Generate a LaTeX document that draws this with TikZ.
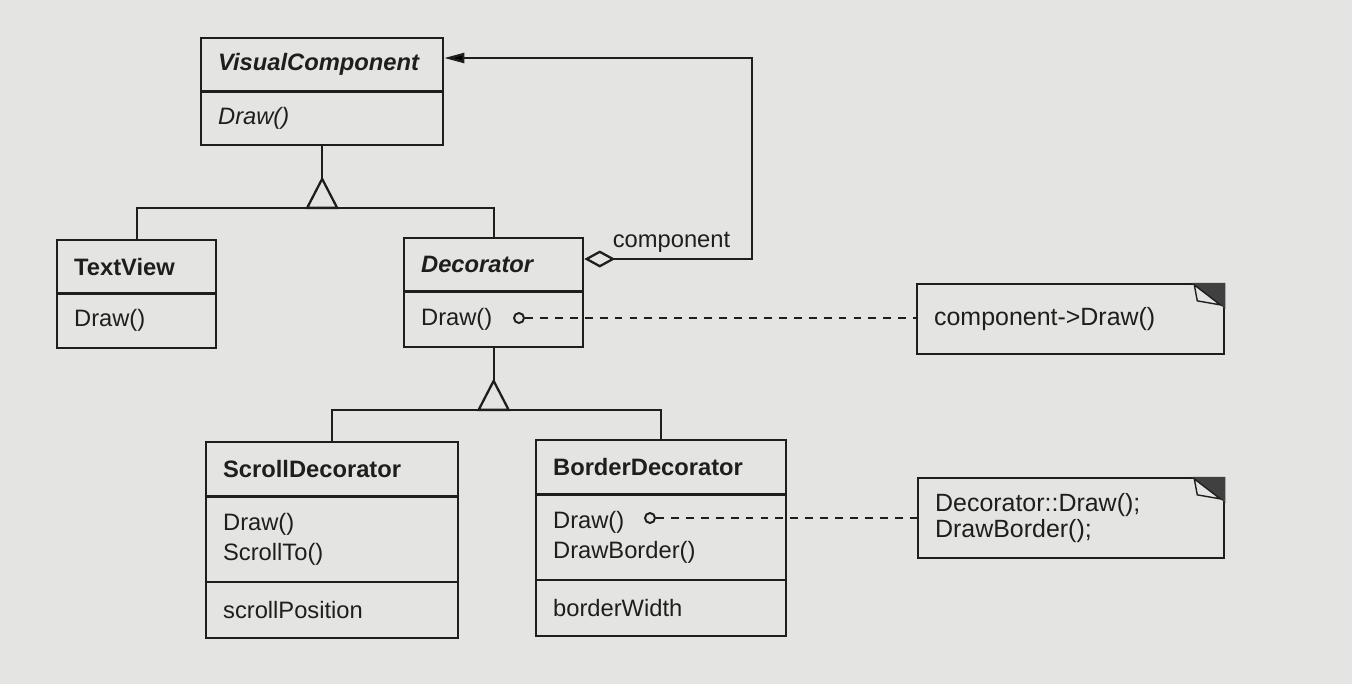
\documentclass[tikz,border=0pt]{standalone}
\usepackage{fontspec}
\setmainfont{Liberation Sans}
\usetikzlibrary{shapes.multipart,arrows.meta,calc}

\definecolor{paper}{RGB}{228,228,226}
\definecolor{ink}{RGB}{30,30,30}
\newlength{\umlpx}
\setlength{\umlpx}{0.02cm}

% one compartment of a class box: width, height, content
\newcommand{\umlcmpt}[3]{\parbox[c][#2\umlpx][c]{#1\umlpx}{\raggedright\leftskip=17\umlpx #3}}

\tikzset{
  umlclass/.style={rectangle split, draw=ink, line width=1.3pt, inner sep=0pt,
    anchor=north west, text=ink, font=\fontsize{13.5}{17}\selectfont},
  umlnote/.style={draw=ink, line width=1.3pt, anchor=west, text=ink, align=left,
    inner xsep=17\umlpx, inner ysep=0pt, font=\fontsize{14.2}{15}\selectfont},
  dotend/.style={circle, draw=ink, line width=1.1pt, fill=paper, inner sep=0pt,
    minimum size=10\umlpx},
  noteline/.style={draw=ink, line width=1.2pt, dash pattern=on 4.5pt off 4pt},
  gen/.style={draw=ink, line width=1.3pt},
}

\begin{document}
\begin{tikzpicture}[x=0.02cm,y=-0.02cm]
          \fill[paper] (0,0) rectangle (1352,684);
          \useasboundingbox (0,0) rectangle (1352,684);

          % classes
          \node[umlclass, rectangle split parts=2] (vc) at (200,37)
            {\umlcmpt{242}{51}{\bfseries\itshape VisualComponent}\nodepart{two}\umlcmpt{242}{51}{\itshape Draw()}};
          \node[umlclass, rectangle split parts=2] (tv) at (56,239)
            {\umlcmpt{159}{51}{\bfseries TextView}\nodepart{two}\umlcmpt{159}{52}{Draw()}};
          \node[umlclass, rectangle split parts=2] (dec) at (403,237)
            {\umlcmpt{179}{51}{\bfseries\itshape Decorator}\nodepart{two}\umlcmpt{179}{53}{Draw()}};
          \node[umlclass, rectangle split parts=3] (sd) at (205,441)
            {\umlcmpt{252}{52}{\bfseries ScrollDecorator}\nodepart{two}\umlcmpt{252}{83}{Draw()\\ScrollTo()}\nodepart{three}\umlcmpt{252}{54}{scrollPosition}};
          \node[umlclass, rectangle split parts=3] (bd) at (535,439)
            {\umlcmpt{250}{52}{\bfseries BorderDecorator}\nodepart{two}\umlcmpt{250}{83}{Draw()\\DrawBorder()}\nodepart{three}\umlcmpt{250}{54}{borderWidth}};

          % notes
          \node[umlnote, minimum height=70\umlpx, text width=273\umlpx] (n1) at (916,319) {component->Draw()};
          \node[umlnote, minimum height=80\umlpx, text width=272\umlpx] (n2) at (917,518) {Decorator::Draw();\\DrawBorder();};
          \foreach \n in {n1,n2}{
            \fill[ink!85] ($(\n.north east)+(-34,0)$) -- (\n.north east) -- ($(\n.north east)+(0,26)$) -- cycle;
            \filldraw[fill=paper, draw=ink, line width=0.8pt] ($(\n.north east)+(-31,2)$) -- ($(\n.north east)+(-5,22)$) -- ($(\n.north east)+(-28,18)$) -- cycle;
          }

          % inheritance
          \draw[gen] (vc.south) -- ++(0,33) coordinate (t1);
          \draw[gen] (t1) -- ++(-15,29) coordinate (b1) -- ++(30,0) -- cycle;
          \draw[gen] (tv.north) |- (b1) -| (dec.north);

          \draw[gen] (dec.south) -- ++(0,33) coordinate (t2);
          \draw[gen] (t2) -- ++(-15,29) coordinate (b2) -- ++(30,0) -- cycle;
          \draw[gen] (sd.north) |- (b2) -| (bd.north);

          % aggregation
          \coordinate (bend) at (752,58);
          \draw[gen, {Diamond[open, length=0.62cm, width=0.34cm]}-{Triangle[length=0.4cm, width=0.2cm]}]
            ($(dec.north east)+(0,22)$) -| (bend)
            node[pos=0.26, above, text=ink, font=\fontsize{13.5}{16}\selectfont] {component}
            -- ($(vc.north east)+(0,21)$);

          % implementation notes
          \node[dotend] (c1) at (519,318) {};
          \draw[noteline] (c1) -- (c1 -| n1.west);
          \node[dotend] (c2) at (650,518) {};
          \draw[noteline] (c2) -- (c2 -| n2.west);
\end{tikzpicture}
\end{document}
